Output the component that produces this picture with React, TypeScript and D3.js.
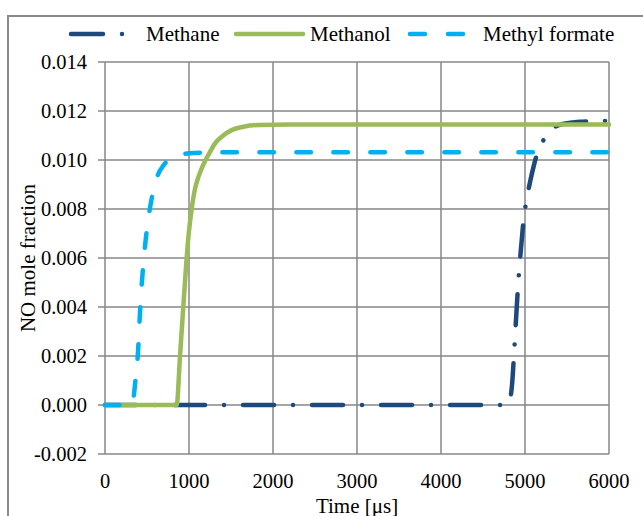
import React from "react";
import * as d3 from "d3";

// NO mole fraction over time for three fuels
const methaneTime = [0, 4790, 4820, 4845, 4870, 4895, 4920, 4950, 4985, 5020, 5060, 5100, 5140, 5190, 5250, 5320, 5400, 5500, 5650, 5800, 6000];
const methaneNO = [0, 0, 0.0002, 0.0008, 0.0021, 0.0036, 0.005, 0.0063, 0.0076, 0.0084, 0.0091, 0.0097, 0.0102, 0.0106, 0.011, 0.01128, 0.01142, 0.0115, 0.01156, 0.01158, 0.0116];

const methanolTime = [0, 853, 893, 932, 972, 1000, 1032, 1070, 1111, 1150, 1198, 1250, 1310, 1400, 1508, 1650, 1825, 2200, 6000];
const methanolNO = [0, 0, 0.002, 0.004, 0.006, 0.0071, 0.008, 0.0088, 0.0093, 0.00965, 0.01, 0.01033, 0.01068, 0.01098, 0.01122, 0.01136, 0.01143, 0.01145, 0.01145];

const formateTime = [0, 325, 340, 365, 390, 420, 450, 480, 520, 560, 620, 700, 800, 900, 1000, 1500, 6000];
const formateNO = [0, 0, 0.0003, 0.0011, 0.002, 0.004, 0.0055, 0.0066, 0.0077, 0.0085, 0.0093, 0.0098, 0.0101, 0.0102, 0.01028, 0.01032, 0.01032];

const xTicks = [0, 1000, 2000, 3000, 4000, 5000, 6000];
const yTicks = [-0.002, 0, 0.002, 0.004, 0.006, 0.008, 0.01, 0.012, 0.014];

const seriesNames = ["Methane", "Methanol", "Methyl formate"];
const seriesColors = ["#1F497D", "#9BBB59", "#00B0F0"];

const W = 643;
const H = 516;
const left = 105;
const right = 609;
const top = 62;
const bottom = 454;
const font = "Liberation Serif";
const gridColor = "#878787";
const lw = 4.5;
const methaneDash = "31 19 0.01 19";
const formateDash = "14.5 22.5";

export default function App() {
  const x = d3.scaleLinear().domain([0, 6000]).range([left, right]);
  const y = d3.scaleLinear().domain([-0.002, 0.014]).range([bottom, top]);
  const line = d3
    .line<[number, number]>()
    .x((d) => x(d[0]))
    .y((d) => y(d[1]))
    .curve(d3.curveMonotoneX);

  const zip = (t: number[], v: number[]) => t.map((tt, i) => [tt, v[i]] as [number, number]);

  const series = [
    { d: line(zip(methaneTime, methaneNO)) || "", dash: methaneDash },
    { d: line(zip(methanolTime, methanolNO)) || "", dash: undefined },
    { d: line(zip(formateTime, formateNO)) || "", dash: formateDash },
  ];

  const fmtY = (v: number) => (Math.abs(v) < 1e-12 ? "0.000" : (v < 0 ? "-" : "") + Math.abs(v).toFixed(3));
  const ts: React.CSSProperties = { fontFamily: font, fontSize: 20.5 };
  const lg: React.CSSProperties = { fontFamily: font, fontSize: 21 };

  return (
    <svg width={W} height={H} style={{ position: "absolute", left: 0, top: 0, background: "#fff" }}>
      <rect x={0} y={0} width={W} height={H} fill="#fff" />
      {/* chart frame */}
      <rect x={8} y={16} width={W + 40} height={H + 40} fill="none" stroke="#8a8a8a" strokeWidth={2} />

      {/* grid and ticks */}
      {yTicks.map((v) => (
        <line key={"h" + v} x1={left - 7} x2={right} y1={y(v)} y2={y(v)} stroke={gridColor} strokeWidth={1.5} />
      ))}
      {xTicks.map((v) => (
        <line key={"v" + v} x1={x(v)} x2={x(v)} y1={top} y2={bottom} stroke={gridColor} strokeWidth={1.5} />
      ))}

      {/* tick labels */}
      {yTicks.map((v) => (
        <text key={"yl" + v} x={87} y={y(v)} dy="0.35em" textAnchor="end" style={ts} fill="#000">
          {fmtY(v)}
        </text>
      ))}
      {xTicks.map((v) => (
        <text key={"xl" + v} x={x(v)} y={488} textAnchor="middle" style={ts} fill="#000">
          {v}
        </text>
      ))}

      {/* axis titles */}
      <text x={357} y={513} textAnchor="middle" style={lg} fill="#000">
        Time [μs]
      </text>
      <text transform={`translate(35,${(top + bottom) / 2}) rotate(-90)`} textAnchor="middle" style={lg} fill="#000">
        NO mole fraction
      </text>

      {/* series */}
      {series.map((s, i) => (
        <path
          key={seriesNames[i]}
          d={s.d}
          fill="none"
          stroke={seriesColors[i]}
          strokeWidth={lw}
          strokeLinecap="round"
          strokeLinejoin="round"
          strokeDasharray={s.dash}
        />
      ))}

      {/* legend */}
      <g>
        <line x1={71} x2={124} y1={34} y2={34} stroke={seriesColors[0]} strokeWidth={lw} strokeLinecap="round" strokeDasharray="32 19 0.01 19" />
        <text x={146} y={41} style={lg} fill="#000">{seriesNames[0]}</text>
        <line x1={236} x2={303} y1={34} y2={34} stroke={seriesColors[1]} strokeWidth={lw} strokeLinecap="round" />
        <text x={310} y={41} style={lg} fill="#000">{seriesNames[1]}</text>
        <line x1={410} x2={463} y1={34} y2={34} stroke={seriesColors[2]} strokeWidth={lw} strokeLinecap="round" strokeDasharray="15 23" />
        <text x={483} y={41} style={lg} fill="#000">{seriesNames[2]}</text>
      </g>
    </svg>
  );
}
